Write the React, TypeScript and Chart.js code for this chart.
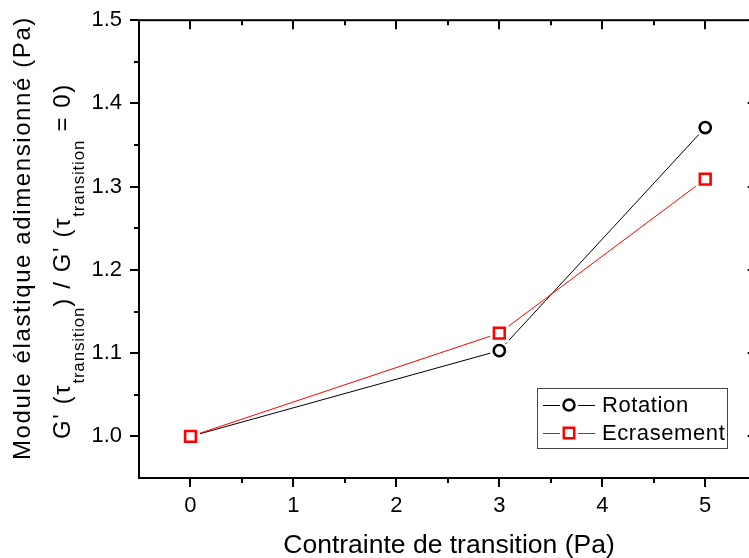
import React, { useEffect, useRef } from "react";
import { Chart, registerables } from "chart.js";

Chart.register(...registerables);

// ---- data ----
const xValues = [0, 3, 5];
const rotation = [1.0, 1.103, 1.371];
const ecrasement = [1.0, 1.124, 1.309];
const seriesNames = ["Rotation", "Ecrasement"];

const xTicks = [0, 1, 2, 3, 4, 5];
const xMinorTicks = [0.5, 1.5, 2.5, 3.5, 4.5];
const yTicks = [1.0, 1.1, 1.2, 1.3, 1.4, 1.5];
const yMinorTicks = [1.05, 1.15, 1.25, 1.35, 1.45];

const xTitle = "Contrainte de transition (Pa)";
const yTitle1 = "Module élastique adimensionné (Pa)";
const yTitle2Parts: [string, boolean][] = [
  ["G' (τ", false],
  ["transition", true],
  [") / G' (τ", false],
  ["transition", true],
  [" = 0)", false],
];

const FONT = "'Liberation Sans', Arial, sans-serif";
const BLACK = "#000000";
const RED = "#ff0000";

const MAJOR = 9;
const MINOR = 5;
const OFF = 2; // canvas is shifted up by this many pixels

const toPoints = (ys: number[]) => xValues.map((x, i) => ({ x, y: ys[i] }));

const decorPlugin = {
  id: "decor",
  afterDraw(chart: any) {
    const ctx: CanvasRenderingContext2D = chart.ctx;
    const { left, right, top, bottom } = chart.chartArea;
    const xs = chart.scales.x;
    const ys = chart.scales.y;
    ctx.save();
    ctx.strokeStyle = BLACK;
    ctx.lineWidth = 2;
    ctx.lineCap = "butt";
    ctx.strokeRect(left, top, right - left, bottom - top);
    const seg = (x1: number, y1: number, x2: number, y2: number) => {
      ctx.beginPath();
      ctx.moveTo(x1, y1);
      ctx.lineTo(x2, y2);
      ctx.stroke();
    };
    const xt = (vals: number[], len: number) =>
      vals.forEach((v) => {
        const p = Math.round(xs.getPixelForValue(v));
        seg(p, bottom, p, bottom + len);
        seg(p, top, p, top + len);
      });
    const yt = (vals: number[], len: number) =>
      vals.forEach((v) => {
        const p = Math.round(ys.getPixelForValue(v));
        seg(left - len, p, left, p);
        seg(right, p, right - len, p);
      });
    xt(xTicks, MAJOR);
    xt(xMinorTicks, MINOR);
    yt(yTicks, MAJOR);
    yt(yMinorTicks, MINOR);

    // x title
    ctx.fillStyle = BLACK;
    ctx.font = `26.5px ${FONT}`;
    ctx.textAlign = "center";
    ctx.textBaseline = "alphabetic";
    ctx.fillText(xTitle, 449, 553 + OFF);

    // y title line 1
    ctx.save();
    ctx.translate(30, 460 + OFF);
    ctx.rotate(-Math.PI / 2);
    ctx.font = `24px ${FONT}`;
    (ctx as any).letterSpacing = "1.6px";
    ctx.textAlign = "left";
    ctx.fillText(yTitle1, 0, 0);
    ctx.restore();

    // y title line 2 with subscripts
    ctx.save();
    ctx.translate(70, 439 + OFF);
    ctx.rotate(-Math.PI / 2);
    ctx.textAlign = "left";
    let cx = 0;
    yTitle2Parts.forEach(([t, sub]) => {
      ctx.font = sub ? `17px ${FONT}` : `24px ${FONT}`;
      (ctx as any).letterSpacing = sub ? "0.8px" : "1.6px";
      ctx.fillText(t, cx, sub ? 14 : 0);
      cx += ctx.measureText(t).width;
    });
    ctx.restore();

    // legend
    const bx = 537, by = 388 + OFF, bw = 190, bh = 60;
    ctx.fillStyle = "#ffffff";
    ctx.fillRect(bx, by, bw, bh);
    ctx.strokeStyle = "#444444";
    ctx.lineWidth = 1;
    ctx.strokeRect(bx + 0.5, by + 0.5, bw, bh);
    const rows = [
      { name: seriesNames[0], color: BLACK, y: 405 + OFF, shape: "circle" },
      { name: seriesNames[1], color: RED, y: 433 + OFF, shape: "rect" },
    ];
    rows.forEach((r) => {
      ctx.strokeStyle = r.color;
      ctx.lineWidth = 1;
      seg(543, r.y + 0.5, 560, r.y + 0.5);
      seg(578, r.y + 0.5, 595, r.y + 0.5);
      ctx.lineWidth = 2.5;
      ctx.fillStyle = "#ffffff";
      ctx.beginPath();
      if (r.shape === "circle") ctx.arc(569, r.y, 5.5, 0, Math.PI * 2);
      else ctx.rect(569 - 5.2, r.y - 5.2, 10.4, 10.4);
      ctx.fill();
      ctx.stroke();
      ctx.fillStyle = BLACK;
      ctx.font = `22px ${FONT}`;
      ctx.textAlign = "left";
      ctx.textBaseline = "middle";
      (ctx as any).letterSpacing = "0.6px";
      ctx.fillText(r.name, 602, r.y + 1);
    });
    ctx.restore();
  },
};

export default function App() {
  const ref = useRef<HTMLCanvasElement>(null);
  useEffect(() => {
    if (!ref.current) return;
    const chart = new Chart(ref.current, {
      type: "line",
      data: {
        datasets: [
          {
            label: seriesNames[0] + " line",
            data: toPoints(rotation),
            borderColor: BLACK,
            borderWidth: 1,
            pointRadius: 0,
            tension: 0,
            order: 10,
          },
          {
            label: seriesNames[1] + " line",
            data: toPoints(ecrasement),
            borderColor: RED,
            borderWidth: 1,
            pointRadius: 0,
            tension: 0,
            order: 9,
          },
          {
            label: seriesNames[0] + " halo",
            data: toPoints(rotation),
            showLine: false,
            pointStyle: "circle",
            pointRadius: 9.5,
            pointBorderWidth: 0,
            pointBackgroundColor: "#ffffff",
            pointBorderColor: "#ffffff",
            order: 8,
          },
          {
            label: seriesNames[0],
            data: toPoints(rotation),
            showLine: false,
            pointStyle: "circle",
            pointRadius: 5.6,
            pointBorderWidth: 2.6,
            pointBackgroundColor: "#ffffff",
            pointBorderColor: BLACK,
            order: 7,
          },
          {
            label: seriesNames[1] + " halo",
            data: toPoints(ecrasement),
            showLine: false,
            pointStyle: "rect",
            pointRadius: 13.3,
            pointBorderWidth: 0,
            pointBackgroundColor: "#ffffff",
            pointBorderColor: "#ffffff",
            order: 6,
          },
          {
            label: seriesNames[1],
            data: toPoints(ecrasement),
            showLine: false,
            pointStyle: "rect",
            pointRadius: 7.6,
            pointBorderWidth: 2.6,
            pointBackgroundColor: "#ffffff",
            pointBorderColor: RED,
            order: 5,
          },
        ],
      },
      options: {
        responsive: false,
        animation: false,
        events: [],
        layout: { padding: { left: 0, right: 12, top: 6, bottom: 0 } },
        plugins: { legend: { display: false }, tooltip: { enabled: false } },
        scales: {
          x: {
            type: "linear",
            min: -0.5,
            max: 5.5,
            grid: { display: false },
            border: { display: false },
            afterFit: (s: any) => {
              s.height = 80;
            },
            afterBuildTicks: (s: any) => {
              s.ticks = xTicks.map((v) => ({ value: v }));
            },
            ticks: {
              color: BLACK,
              font: { family: FONT, size: 22 },
              padding: 7,
              maxRotation: 0,
              callback: (v: any) => String(v),
            },
          },
          y: {
            type: "linear",
            min: 0.95,
            max: 1.5,
            grid: { display: false },
            border: { display: false },
            afterFit: (s: any) => {
              s.width = 139;
            },
            afterBuildTicks: (s: any) => {
              s.ticks = yTicks.map((v) => ({ value: v }));
            },
            ticks: {
              color: BLACK,
              font: { family: FONT, size: 22 },
              padding: 9,
              callback: (v: any) => Number(v).toFixed(1),
            },
          },
        },
      },
      plugins: [decorPlugin],
    });
    return () => chart.destroy();
  }, []);
  return (
    <div
      style={{
        position: "fixed",
        left: 0,
        top: 0,
        width: 749,
        height: 558,
        overflow: "hidden",
        background: "#ffffff",
      }}
    >
      <canvas
        ref={ref}
        width={770}
        height={560}
        style={{ display: "block", position: "absolute", left: 0, top: -OFF }}
      />
    </div>
  );
}
